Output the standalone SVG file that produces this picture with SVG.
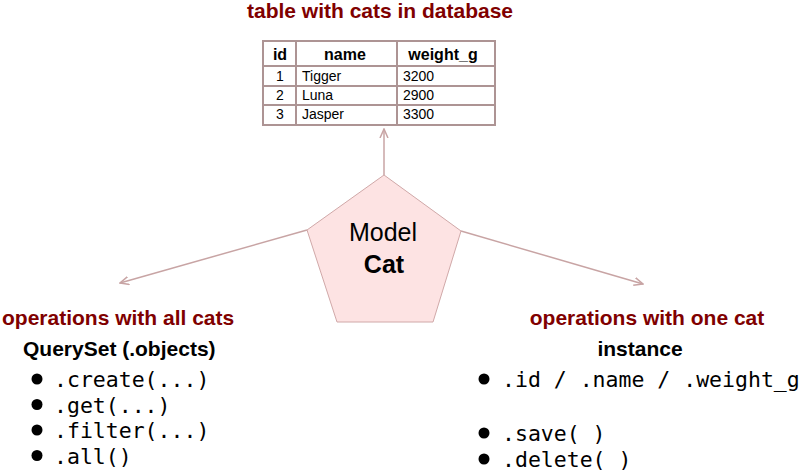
<svg xmlns="http://www.w3.org/2000/svg" width="800" height="472" viewBox="0 0 800 472">
<style>
.title{font-family:"Liberation Sans",Arial,sans-serif;font-weight:bold;font-size:21px;fill:#800000}
.hdr{font-family:"Liberation Sans",Arial,sans-serif;font-weight:bold;font-size:16px;fill:#000}
.cell{font-family:"Liberation Sans",Arial,sans-serif;font-size:14px;fill:#000}
.sub{font-family:"Liberation Sans",Arial,sans-serif;font-weight:bold;font-size:21px;fill:#000}
.mono{font-family:"DejaVu Sans Mono",monospace;font-size:21.5px;fill:#000}
.tline{stroke:#ad9494;stroke-width:2;fill:none}
.conn{stroke:#c8a4a4;stroke-width:1.5;fill:none}
</style>
<defs>
<marker id="arr" viewBox="0 0 10 10" refX="9" refY="5" markerWidth="10" markerHeight="10" markerUnits="userSpaceOnUse" orient="auto">
<path d="M0,1 L9,5 L0,9" fill="none" stroke="#c8a4a4" stroke-width="1.5"/>
</marker>
</defs>
<g id="table">
<text class="title" x="380" y="18" text-anchor="middle">table with cats in database</text>
<rect class="tline" x="263" y="41" width="232" height="84"/>
<line class="tline" x1="263" y1="66" x2="495" y2="66"/>
<line class="tline" x1="263" y1="86" x2="495" y2="86"/>
<line class="tline" x1="263" y1="105" x2="495" y2="105"/>
<line class="tline" x1="296" y1="41" x2="296" y2="125"/>
<line class="tline" x1="397" y1="41" x2="397" y2="125"/>
<text class="hdr" x="280" y="60" text-anchor="middle">id</text>
<text class="hdr" x="345" y="60" text-anchor="middle">name</text>
<text class="hdr" x="443" y="60" text-anchor="middle">weight_g</text>
<text class="cell" x="280" y="81" text-anchor="middle">1</text>
<text class="cell" x="302" y="81">Tigger</text>
<text class="cell" x="403" y="81">3200</text>
<text class="cell" x="280" y="100" text-anchor="middle">2</text>
<text class="cell" x="302" y="100">Luna</text>
<text class="cell" x="403" y="100">2900</text>
<text class="cell" x="280" y="119" text-anchor="middle">3</text>
<text class="cell" x="302" y="119">Jasper</text>
<text class="cell" x="403" y="119">3300</text>
</g>
<g id="model">
<polygon points="384,175 461,231 433,322 337,322 307,230" fill="#fde3e3" stroke="#d0a8a8" stroke-width="1"/>
<text x="383" y="241" text-anchor="middle" font-family="Liberation Sans, Arial, sans-serif" font-size="25">Model</text>
<text x="384" y="273" text-anchor="middle" font-family="Liberation Sans, Arial, sans-serif" font-size="25" font-weight="bold">Cat</text>
</g>
<g id="connectors">
<line class="conn" x1="384" y1="175" x2="384" y2="129" marker-end="url(#arr)"/>
<line class="conn" x1="307" y1="230" x2="120" y2="283" marker-end="url(#arr)"/>
<line class="conn" x1="461" y1="231" x2="643" y2="284" marker-end="url(#arr)"/>
</g>
<g id="all-cats">
<text class="title" x="2" y="325">operations with all cats</text>
<text class="sub" x="23" y="356">QuerySet (.objects)</text>
<circle cx="37" cy="379" r="5.5"/>
<circle cx="37" cy="404.5" r="5.5"/>
<circle cx="37" cy="430" r="5.5"/>
<circle cx="37" cy="455.5" r="5.5"/>
<text class="mono" x="54" y="387">.create(...)</text>
<text class="mono" x="54" y="412.5">.get(...)</text>
<text class="mono" x="54" y="438">.filter(...)</text>
<text class="mono" x="54" y="463.5">.all()</text>
</g>
<g id="one-cat">
<text class="title" x="647" y="325" text-anchor="middle">operations with one cat</text>
<text class="sub" x="640" y="356" text-anchor="middle">instance</text>
<circle cx="484" cy="379" r="5.5"/>
<circle cx="484" cy="433" r="5.5"/>
<circle cx="484" cy="459" r="5.5"/>
<text class="mono" x="502" y="387">.id / .name / .weight_g</text>
<text class="mono" x="502" y="441">.save( )</text>
<text class="mono" x="502" y="467">.delete( )</text>
</g>
</svg>
